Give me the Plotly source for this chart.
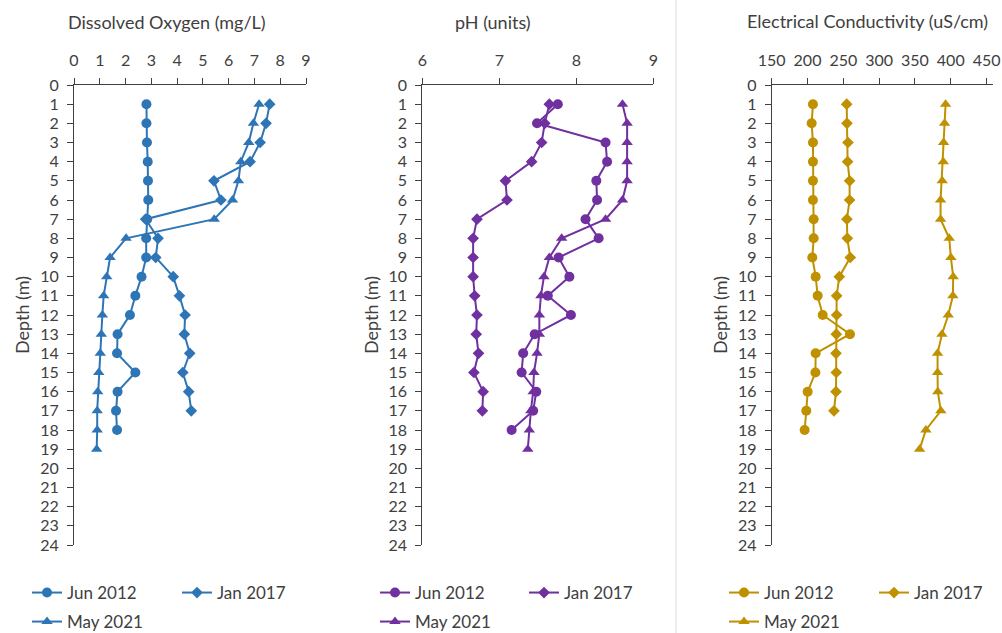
import plotly.graph_objects as go

W, H = 1002, 633

depth_jun2012 = list(range(1, 19))
depth_jan2017 = list(range(1, 18))
depth_may2021 = list(range(1, 20))

do_jun2012 = [2.81, 2.81, 2.83, 2.86, 2.87, 2.88, 2.84, 2.80, 2.80, 2.62, 2.38, 2.17,
              1.69, 1.67, 2.38, 1.69, 1.63, 1.67]
do_jan2017 = [7.59, 7.45, 7.22, 6.83, 5.43, 5.70, 2.78, 3.26, 3.17, 3.85, 4.09, 4.31,
              4.28, 4.49, 4.22, 4.45, 4.55]
do_may2021 = [7.18, 6.96, 6.78, 6.47, 6.38, 6.15, 5.44, 2.02, 1.40, 1.27, 1.15, 1.10,
              1.06, 1.02, 0.96, 0.92, 0.90, 0.90, 0.88]

ph_jun2012 = [7.76, 7.49, 8.38, 8.40, 8.26, 8.27, 8.12, 8.29, 7.77, 7.91, 7.63, 7.93,
              7.46, 7.31, 7.29, 7.48, 7.44, 7.16]
ph_jan2017 = [7.65, 7.59, 7.55, 7.42, 7.08, 7.10, 6.71, 6.66, 6.66, 6.66, 6.68, 6.71,
              6.70, 6.73, 6.67, 6.79, 6.78]
ph_may2021 = [8.60, 8.66, 8.66, 8.66, 8.66, 8.60, 8.38, 7.81, 7.65, 7.58, 7.54, 7.52,
              7.52, 7.49, 7.45, 7.44, 7.41, 7.39, 7.37]

ec_jun2012 = [207.6, 205.8, 207.6, 207.6, 207.6, 207.6, 208.6, 208.6, 206.7, 211.4,
              214.2, 221.2, 259.3, 211.4, 211.0, 200.2, 198.3, 196.0]
ec_jan2017 = [254.7, 255.1, 256.5, 256.0, 258.8, 258.8, 255.0, 255.6, 259.7, 244.4,
              240.7, 240.7, 240.2, 239.8, 240.2, 239.8, 236.9]
ec_may2021 = [392.8, 391.4, 390.0, 389.6, 388.1, 385.8, 385.8, 397.9, 400.2, 403.4,
              403.0, 396.5, 387.7, 381.6, 381.6, 381.9, 386.2, 365.3, 356.5]

series_names = ["Jun 2012", "Jan 2017", "May 2021"]
panel_titles = ["Dissolved Oxygen (mg/L)", "pH (units)", "Electrical Conductivity (uS/cm)"]
y_title = "Depth (m)"

FONT = "Lato"
TXT = "#404040"
AX = "#404040"
colors = ["#2E75B6", "#7030A0", "#BF9000"]
symbols = ["circle", "diamond", "triangle-up"]
msizes = [10, 9, 10]

# layout geometry (pixels)
x_dom_px = [(74, 306), (422.3, 653.3), (771.7, 993)]
x_ranges = [[0, 9], [6, 9], [150, 459]]
x_dtick = [1, 1, 50]
y_top_px, y_bot_px = 85, 545
title_pos = [(167, 22), (493, 22), (867, 21)]
legend_rows = [593, 622]
legend_cols = [(27, 177), (375, 524), (724, 874)]

def px(x):
    return x / W

def py(y):
    return 1 - y / H

panels = [
    (do_jun2012, do_jan2017, do_may2021),
    (ph_jun2012, ph_jan2017, ph_may2021),
    (ec_jun2012, ec_jan2017, ec_may2021),
]
depths = [depth_jun2012, depth_jan2017, depth_may2021]

fig = go.Figure()
legend_id = 1
for p, vals in enumerate(panels):
    xa = "x" if p == 0 else f"x{p+1}"
    ya = "y" if p == 0 else f"y{p+1}"
    for s in range(3):
        legend_id += 1
        lg = f"legend{legend_id}"
        fig.add_trace(go.Scatter(
            x=vals[s], y=depths[s], name=series_names[s],
            mode="lines+markers", xaxis=xa, yaxis=ya, legend=lg,
            line=dict(color=colors[p], width=2),
            marker=dict(symbol=symbols[s], size=msizes[s], color=colors[p]),
        ))
        if s == 0:
            lx, ly = legend_cols[p][0], legend_rows[0]
        elif s == 1:
            lx, ly = legend_cols[p][1], legend_rows[0]
        else:
            lx, ly = legend_cols[p][0], legend_rows[1]
        fig.update_layout(**{lg: dict(
            x=px(lx), y=py(ly), xanchor="left", yanchor="middle",
            xref="container", yref="container",
            orientation="h", bgcolor="rgba(0,0,0,0)", borderwidth=0,
            font=dict(family=FONT, size=17, color=TXT),
        )})

axis_common = dict(
    showline=True, linecolor=AX, linewidth=1, ticks="outside", ticklen=6,
    tickcolor=AX, tickwidth=1, showgrid=False, zeroline=False,
    tickfont=dict(family=FONT, size=16, color=TXT), automargin=False,
)

for p in range(3):
    xk = "xaxis" if p == 0 else f"xaxis{p+1}"
    yk = "yaxis" if p == 0 else f"yaxis{p+1}"
    ya = "y" if p == 0 else f"y{p+1}"
    xa = "x" if p == 0 else f"x{p+1}"
    fig.update_layout(**{
        xk: dict(axis_common, domain=[px(x_dom_px[p][0]), px(x_dom_px[p][1])],
                 range=x_ranges[p], dtick=x_dtick[p], tick0=x_ranges[p][0],
                 side="top", anchor=ya, ticklabelstandoff=6),
        yk: dict(axis_common, domain=[py(y_bot_px), py(y_top_px)],
                 range=[24, 0], dtick=1, tick0=0, anchor=xa, ticklabelstandoff=5,
                 title=dict(text=y_title, font=dict(family=FONT, size=18, color=TXT),
                            standoff=5)),
    })
    fig.add_annotation(
        text=panel_titles[p], x=px(title_pos[p][0]), y=py(title_pos[p][1]),
        xref="paper", yref="paper", xanchor="center", yanchor="middle",
        showarrow=False, font=dict(family=FONT, size=18, color=TXT),
    )

fig.add_shape(type="line", xref="paper", yref="paper", x0=px(676), x1=px(676),
              y0=0, y1=1, line=dict(color="#D9D9D9", width=1))

fig.update_layout(
    width=W, height=H, margin=dict(l=0, r=0, t=0, b=0, autoexpand=False),
    paper_bgcolor="white", plot_bgcolor="white",
    font=dict(family=FONT, color=TXT),
)

fig.write_html("out.html")
